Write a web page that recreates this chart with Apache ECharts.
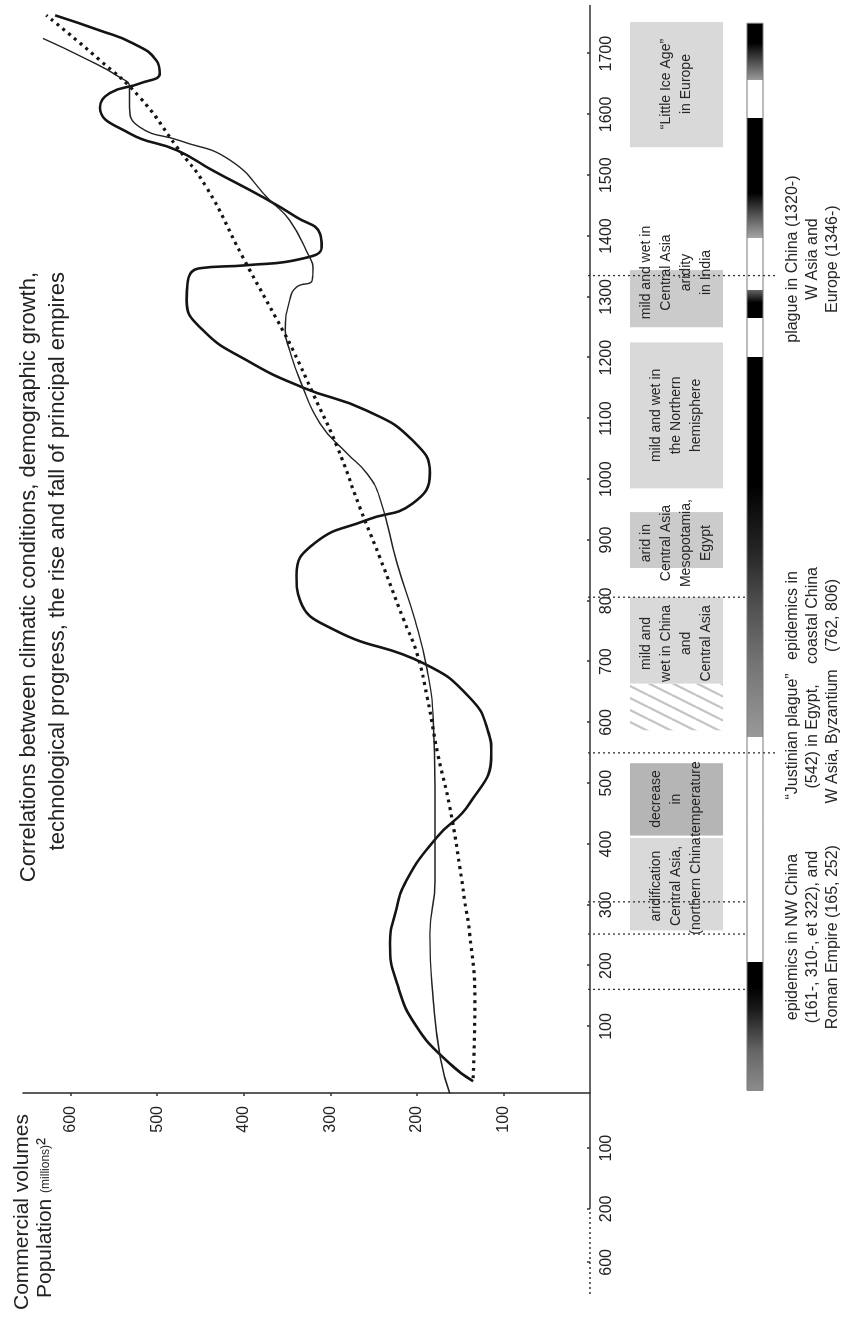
<!DOCTYPE html>
<html>
<head>
<meta charset="utf-8">
<script src="https://cdn.jsdelivr.net/npm/echarts@6/dist/echarts.min.js"></script>
<style>
html,body{margin:0;padding:0;background:#fff;overflow:hidden;width:845px;height:1319px;}
#chart{position:absolute;left:0;top:0;width:1319px;height:845px;transform-origin:0 0;transform:translate(0,1319px) rotate(-90deg);background:#fff;}
</style>
</head>
<body>
<div id="chart"></div>
<script>
// ---------------- DATA ----------------
// Thick solid curve (commercial volumes)
const commerceYears  = [10, 39, 99, 171, 237, 286, 340, 411, 467, 549, 587, 641, 697, 752, 801, 842, 895, 933, 960, 1010, 1064, 1113, 1151, 1196, 1245, 1294, 1322, 1347, 1352, 1363, 1382, 1404, 1431, 1464, 1508, 1541, 1569, 1612, 1635, 1651, 1668, 1689, 1717, 1738, 1763];
const commerceValues = [135, 162, 200, 223, 231, 225, 212, 177, 139, 114, 118, 139, 192, 295, 335, 339, 318, 258, 205, 185, 205, 258, 332, 397, 447, 466, 465, 451, 397, 332, 310, 312, 339, 378, 436, 477, 532, 566, 555, 520, 497, 501, 528, 566, 618];
// Thin solid curve (population)
const populationYears  = [-10, 49, 143, 253, 340, 493, 604, 686, 768, 862, 970, 1010, 1043, 1092, 1163, 1212, 1245, 1294, 1316, 1327, 1349, 1365, 1426, 1459, 1525, 1557, 1579, 1612, 1645, 1661, 1694, 1725];
const populationValues = [162, 173, 181, 185, 179, 179, 181, 188, 202, 223, 243, 258, 281, 312, 335, 347, 352, 347, 339, 321, 320, 324, 347, 370, 416, 474, 520, 532, 532, 543, 586, 632];
// Dotted curve (trend)
const trendYears  = [15, 143, 253, 308, 340, 461, 549, 641, 714, 768, 872, 954, 1053, 1141, 1212, 1245, 1365, 1480, 1546, 1628, 1689, 1763];
const trendValues = [135, 133, 139, 145, 148, 162, 176, 188, 200, 215, 243, 266, 292, 320, 343, 355, 401, 443, 477, 520, 566, 628];

// Axis tick labels
const yearTickLabels  = [100, 200, 300, 400, 500, 600, 700, 800, 900, 1000, 1100, 1200, 1300, 1400, 1500, 1600, 1700];
const bcTickLabels    = [100, 200, 600];
const valueTickLabels = [100, 200, 300, 400, 500, 600];

// Climate periods
const climateStart = [258, 414, 587, 664, 854, 985, 1250, 1546];
const climateEnd   = [410, 533, 664, 806, 946, 1225, 1344, 1752];
const climateKind  = ['light', 'dark', 'hatch', 'light', 'medium', 'light', 'medium', 'light'];
const climateLabelYear = [331, 474, null, 730, 895, 1105, 1340, 1650];
const climateLabel = [
  'aridification\nCentral Asia,\n(northern China',
  'decrease\nin\ntemperature',
  '',
  'mild and\nwet in China\nand\nCentral Asia',
  'arid in\nCentral Asia\nMesopotamia,\nEgypt',
  'mild and wet in\nthe Northern\nhemisphere',
  'mild and wet in\nCentral Asia\naridity\nin India',
  '\u201cLittle Ice Age\u201d\nin Europe'
];

// Epidemic markers
const epidemicLineYears = [161, 252, 305, 550, 806, 1335];
const epidemicLineReach = ['bar', 'bar', 'bar', 'label', 'bar', 'label'];
const epidemicLabelYears = [247, 577, 776, 1362];
const epidemicLabels = [
  'epidemics in NW China\n(161-, 310-, et 322), and\nRoman Empire (165, 252)',
  '\u201cJustinian plague\u201d\n(542) in Egypt,\nW Asia, Byzantium',
  'epidemics in\ncoastal China\n(762, 806)',
  'plague in China (1320-)\nW Asia and\nEurope (1346-)'
];

// Shaded band (darkness 0 = white, 1 = black)
const bandYears    = [-5, 60, 130, 165, 206, 206, 576, 576, 700, 800, 880, 990, 1200, 1200, 1265, 1265, 1290, 1311, 1311, 1396, 1396, 1437, 1470, 1594, 1594, 1656, 1656, 1717, 1750];
const bandDarkness = [0.45, 0.6, 0.9, 1, 1, 0, 0, 0.4, 0.55, 0.7, 0.85, 1, 1, 0, 0, 1, 1, 0.6, 0, 0, 0.35, 0.7, 1, 1, 0, 0, 0.4, 1, 1];

// ---------------- LAYOUT / STYLE ----------------
const FONT = "'Liberation Sans', Arial, Helvetica, sans-serif";
const AXIS_MIN = -340, AXIS_MAX = 1780, BREAK_START = -200, BREAK_LABEL_POS = -288;
const BOX_FILL = { light: '#d9d9d9', medium: '#cbcbcb', dark: '#b5b5b5' };

function zip(xs, ys) { return xs.map((x, i) => [x, ys[i]]); }
function gray(d) { const c = Math.round(255 * (1 - d)); return 'rgb(' + c + ',' + c + ',' + c + ')'; }
function bcAxisValue(label) { return label === 600 ? BREAK_LABEL_POS : -label; }

const hatch = document.createElement('canvas');
hatch.width = 12; hatch.height = 24;
(function () {
  const g = hatch.getContext('2d');
  g.fillStyle = '#ffffff'; g.fillRect(0, 0, 12, 24);
  g.strokeStyle = '#c4c4c4'; g.lineWidth = 2.2;
  g.beginPath();
  g.moveTo(0, 24); g.lineTo(12, 0);
  g.moveTo(-12, 24); g.lineTo(0, 0);
  g.moveTo(12, 24); g.lineTo(24, 0);
  g.stroke();
})();

const bcVals = bcTickLabels.map(bcAxisValue);
const xTickVals = bcVals.concat(yearTickLabels);

const chart = echarts.init(document.getElementById('chart'), null, { renderer: 'canvas', width: 1319, height: 845 });

const option = {
  animation: false,
  backgroundColor: '#ffffff',
  title: {
    text: 'Correlations between climatic conditions, demographic growth,\ntechnological progress, the rise and fall of principal empires',
    left: 1042, top: 9, textAlign: 'right',
    textStyle: { fontFamily: FONT, fontSize: 22, fontWeight: 'normal', color: '#222', lineHeight: 29 }
  },
  graphic: [
    { type: 'text', left: 9, top: 12, style: { text: 'Commercial volumes', fontFamily: FONT, fontSize: 21, fill: '#222' } },
    { type: 'text', left: 21, top: 35, style: {
        text: '{a|Population }{s|(millions)}{a|\u00b2}',
        rich: { a: { fontFamily: FONT, fontSize: 21, fill: '#222' }, s: { fontFamily: FONT, fontSize: 12, fill: '#222' } }
    } }
  ],
  grid: { left: 25, right: 5, top: 23, bottom: 255 },
  xAxis: {
    type: 'value', min: AXIS_MIN, max: AXIS_MAX,
    splitLine: { show: false },
    axisLine: { show: false },
    axisTick: { show: true, inside: true, length: 3, customValues: xTickVals, lineStyle: { color: '#333', width: 1.5 } },
    axisLabel: {
      customValues: xTickVals, margin: 9, fontFamily: FONT, fontSize: 16, color: '#222',
      formatter: function (v) { return v === BREAK_LABEL_POS ? '600' : String(Math.abs(v)); }
    }
  },
  yAxis: {
    type: 'value', min: 0, max: 655, offset: -201,
    splitLine: { show: false },
    axisLine: { show: true, onZero: false, lineStyle: { color: '#333', width: 1.6 } },
    axisTick: { show: true, length: 3, customValues: valueTickLabels, lineStyle: { color: '#333', width: 1.5 } },
    axisLabel: { customValues: valueTickLabels, margin: 13, fontFamily: FONT, fontSize: 16, color: '#222' }
  },
  series: [
    {
      type: 'custom', name: 'Climate', clip: false, silent: true, z: 1,
      data: climateStart.map((s, i) => [s, climateEnd[i]]),
      encode: { x: [0, 1] },
      renderItem: function (params, api) {
        const i = params.dataIndex;
        const x0 = api.coord([api.value(0), 0])[0];
        const x1 = api.coord([api.value(1), 0])[0];
        const base = params.coordSys.y + params.coordSys.height;
        const top = base + 40, h = 93;
        const kind = climateKind[i];
        const fill = kind === 'hatch' ? { type: 'pattern', image: hatch, repeat: 'repeat' } : BOX_FILL[kind];
        const children = [{ type: 'rect', shape: { x: x0, y: top, width: x1 - x0, height: h }, style: { fill: fill } }];
        if (climateLabel[i]) {
          const cx = api.coord([climateLabelYear[i], 0])[0];
          children.push({ type: 'text', x: cx, y: top + h / 2, style: {
            text: climateLabel[i], fill: '#262626', fontFamily: FONT, fontSize: 14,
            align: 'center', verticalAlign: 'middle', lineHeight: 20 } });
        }
        return { type: 'group', children: children };
      }
    },
    {
      type: 'custom', name: 'Band', clip: false, silent: true, z: 1,
      data: [[bandYears[0], bandYears[bandYears.length - 1]]],
      encode: { x: [0, 1] },
      renderItem: function (params, api) {
        const first = api.value(0), last = api.value(1);
        const x0 = api.coord([first, 0])[0], x1 = api.coord([last, 0])[0];
        const base = params.coordSys.y + params.coordSys.height;
        const stops = bandYears.map((y, k) => ({ offset: (y - first) / (last - first), color: gray(bandDarkness[k]) }));
        return { type: 'rect', shape: { x: x0, y: base + 157, width: x1 - x0, height: 16 },
          style: { fill: new echarts.graphic.LinearGradient(0, 0, 1, 0, stops), stroke: '#7a7a7a', lineWidth: 1 } };
      }
    },
    {
      type: 'custom', name: 'Epidemics', clip: false, silent: true, z: 2,
      data: epidemicLineYears.map((y) => [y]),
      encode: { x: 0 },
      renderItem: function (params, api) {
        const i = params.dataIndex;
        const x = api.coord([api.value(0), 0])[0];
        const base = params.coordSys.y + params.coordSys.height;
        const end = epidemicLineReach[i] === 'bar' ? base + 157 : base + 185;
        return { type: 'line', shape: { x1: x, y1: base - 2, x2: x, y2: end },
          style: { stroke: '#333', lineWidth: 1.3, lineDash: [2, 3] } };
      }
    },
    {
      type: 'custom', name: 'Epidemic labels', clip: false, silent: true, z: 2,
      data: epidemicLabelYears.map((y) => [y]),
      encode: { x: 0 },
      renderItem: function (params, api) {
        const i = params.dataIndex;
        const x = api.coord([api.value(0), 0])[0];
        const base = params.coordSys.y + params.coordSys.height;
        return { type: 'text', x: x, y: base + 223, style: {
          text: epidemicLabels[i], fill: '#262626', fontFamily: FONT, fontSize: 16,
          align: 'center', verticalAlign: 'middle', lineHeight: 20 } };
      }
    },
    {
      type: 'custom', name: 'Year axis line', clip: false, silent: true, z: 2,
      data: [[AXIS_MIN, BREAK_START, AXIS_MAX]],
      encode: { x: [0, 2] },
      renderItem: function (params, api) {
        const a = api.coord([api.value(0), 0]);
        const b = api.coord([api.value(1), 0]);
        const c = api.coord([api.value(2), 0]);
        return { type: 'group', children: [
          { type: 'line', shape: { x1: b[0], y1: b[1], x2: c[0], y2: c[1] }, style: { stroke: '#333', lineWidth: 1.6 } },
          { type: 'line', shape: { x1: a[0], y1: a[1], x2: b[0], y2: b[1] }, style: { stroke: '#333', lineWidth: 1.6, lineDash: [2, 3] } }
        ] };
      }
    },
    {
      type: 'line', name: 'Commercial volumes', data: zip(commerceYears, commerceValues),
      smooth: 0.5, showSymbol: false, z: 4, silent: true,
      lineStyle: { color: '#141414', width: 2.6 }
    },
    {
      type: 'line', name: 'Population', data: zip(populationYears, populationValues),
      smooth: 0.5, showSymbol: false, z: 4, silent: true,
      lineStyle: { color: '#222', width: 1.4 }
    },
    {
      type: 'line', name: 'Population trend', data: zip(trendYears, trendValues),
      smooth: 0.5, showSymbol: false, z: 4, silent: true,
      lineStyle: { color: '#141414', width: 3.2, type: [3, 4.5] }
    }
  ]
};
chart.setOption(option);
</script>
</body>
</html>
